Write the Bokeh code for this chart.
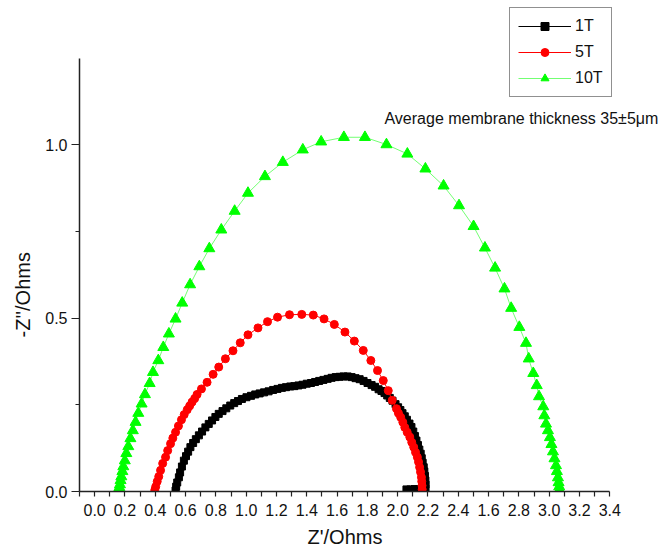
from bokeh.plotting import figure
from bokeh.models import (Range1d, FixedTicker, Legend, LegendItem, Label, Title)
from bokeh.embed import file_html
from bokeh.resources import INLINE

# ---------------- data ----------------
series_names = ["1T", "5T", "10T"]

x_1T = [0.534, 0.538, 0.545, 0.556, 0.564, 0.576, 0.589, 0.603, 0.617, 0.632,
        0.650, 0.668, 0.688, 0.709, 0.731, 0.753, 0.775, 0.797, 0.819, 0.844,
        0.869, 0.895, 0.921, 0.946, 0.972, 1.002, 1.032, 1.060, 1.089, 1.118,
        1.148, 1.178, 1.207, 1.236, 1.263, 1.291, 1.318, 1.345, 1.372, 1.400,
        1.428, 1.455, 1.482, 1.510, 1.538, 1.564, 1.591, 1.617, 1.643, 1.670,
        1.696, 1.722, 1.749, 1.775, 1.801, 1.828, 1.851, 1.874, 1.893, 1.913,
        1.931, 1.948, 1.966, 1.986, 2.003, 2.018, 2.032, 2.047, 2.061, 2.078,
        2.091, 2.103, 2.114, 2.124, 2.134, 2.143, 2.152, 2.159, 2.165, 2.172,
        2.176, 2.180, 2.183, 2.184, 2.184, 2.163, 2.137, 2.111, 2.084, 2.058]
y_1T = [0.003, 0.014, 0.026, 0.041, 0.055, 0.072, 0.089, 0.102, 0.115, 0.128,
        0.140, 0.151, 0.162, 0.173, 0.185, 0.195, 0.205, 0.215, 0.224, 0.232,
        0.240, 0.248, 0.255, 0.261, 0.267, 0.272, 0.276, 0.280, 0.283, 0.286,
        0.289, 0.293, 0.296, 0.299, 0.301, 0.303, 0.304, 0.306, 0.308, 0.311,
        0.313, 0.316, 0.319, 0.322, 0.325, 0.328, 0.330, 0.331, 0.332, 0.332,
        0.330, 0.327, 0.324, 0.319, 0.313, 0.307, 0.302, 0.295, 0.290, 0.284,
        0.277, 0.270, 0.262, 0.252, 0.243, 0.235, 0.226, 0.217, 0.207, 0.196,
        0.186, 0.173, 0.160, 0.147, 0.134, 0.121, 0.109, 0.096, 0.083, 0.070,
        0.058, 0.045, 0.032, 0.020, 0.010, 0.008, 0.007, 0.007, 0.006, 0.006]

x_5T = [0.397, 0.403, 0.413, 0.423, 0.435, 0.449, 0.468, 0.482, 0.501, 0.516,
        0.534, 0.553, 0.573, 0.591, 0.611, 0.627, 0.643, 0.660, 0.676, 0.705,
        0.742, 0.782, 0.819, 0.863, 0.913, 0.961, 1.012, 1.078, 1.141, 1.207,
        1.286, 1.367, 1.443, 1.514, 1.582, 1.652, 1.714, 1.773, 1.823, 1.867,
        1.905, 1.938, 1.964, 1.992, 2.005, 2.020, 2.034, 2.047, 2.063, 2.080,
        2.093, 2.106, 2.118, 2.130, 2.138, 2.145, 2.151, 2.157, 2.159, 2.161,
        2.162]
y_5T = [0.004, 0.014, 0.029, 0.043, 0.061, 0.081, 0.099, 0.118, 0.138, 0.154,
        0.171, 0.189, 0.207, 0.222, 0.236, 0.247, 0.258, 0.268, 0.280, 0.296,
        0.315, 0.338, 0.359, 0.383, 0.406, 0.429, 0.452, 0.472, 0.490, 0.503,
        0.510, 0.511, 0.509, 0.498, 0.482, 0.460, 0.434, 0.407, 0.378, 0.349,
        0.320, 0.291, 0.263, 0.239, 0.226, 0.214, 0.200, 0.185, 0.171, 0.157,
        0.142, 0.128, 0.113, 0.099, 0.085, 0.070, 0.056, 0.041, 0.029, 0.017,
        0.006]

x_10T = [0.161, 0.163, 0.167, 0.171, 0.176, 0.183, 0.189, 0.199, 0.209, 0.222,
         0.236, 0.252, 0.270, 0.288, 0.310, 0.332, 0.363, 0.385, 0.420, 0.453,
         0.490, 0.534, 0.578, 0.630, 0.691, 0.757, 0.836, 0.924, 1.012, 1.124,
         1.242, 1.374, 1.495, 1.645, 1.784, 1.926, 2.064, 2.183, 2.303, 2.405,
         2.501, 2.576, 2.643, 2.705, 2.749, 2.803, 2.847, 2.865, 2.895, 2.918,
         2.933, 2.961, 2.968, 2.979, 2.992, 3.005, 3.015, 3.025, 3.035, 3.045,
         3.051, 3.058, 3.062, 3.066, 3.068]
y_10T = [0.004, 0.012, 0.020, 0.032, 0.043, 0.058, 0.072, 0.089, 0.110, 0.130,
         0.153, 0.176, 0.200, 0.226, 0.253, 0.280, 0.312, 0.344, 0.378, 0.416,
         0.455, 0.498, 0.544, 0.597, 0.649, 0.701, 0.755, 0.809, 0.861, 0.909,
         0.950, 0.986, 1.009, 1.022, 1.022, 1.001, 0.974, 0.931, 0.882, 0.825,
         0.765, 0.703, 0.645, 0.585, 0.529, 0.474, 0.428, 0.383, 0.341, 0.306,
         0.274, 0.245, 0.219, 0.195, 0.176, 0.156, 0.136, 0.115, 0.095, 0.075,
         0.058, 0.040, 0.026, 0.014, 0.004]

x_ticks = [0.0, 0.2, 0.4, 0.6, 0.8, 1.0, 1.2, 1.4, 1.6, 1.8, 2.0, 2.2, 2.4,
           2.6, 2.8, 3.0, 3.2, 3.4]
x_tick_labels = ["0.0", "0.2", "0.4", "0.6", "0.8", "1.0", "1.2", "1.4", "1.6",
                 "1.8", "2.0", "2.2", "2.4", "1.6", "2.8", "3.0", "3.2", "3.4"]
x_minor_ticks = [-0.1, 0.1, 0.3, 0.5, 0.7, 0.9, 1.1, 1.3, 1.5, 1.7, 1.9, 2.1,
                 2.3, 2.5, 2.7, 2.9, 3.1, 3.3]
y_ticks = [0.0, 0.5, 1.0]
y_tick_labels = ["0.0", "0.5", "1.0"]
y_minor_ticks = [0.25, 0.75]

x_title = "Z'/Ohms"
y_title = "-Z''/Ohms"
note_text = "Average membrane thickness 35\u00b15\u03bcm"

# ---------------- figure ----------------
FONT = "Liberation Sans"
INK = "#111111"
W, H = 672, 555
p = figure(width=W, height=H, output_backend="svg", toolbar_location=None,
           x_range=Range1d(-0.1, 3.814), y_range=Range1d(0.0, 1.4166),
           min_border_left=77, min_border_right=0, min_border_top=0,
           min_border_bottom=64)
p.outline_line_color = None
p.xgrid.visible = False
p.ygrid.visible = False
p.background_fill_color = "white"
p.border_fill_color = "white"

# x axis
xa = p.xaxis[0]
xa.ticker = FixedTicker(ticks=x_ticks, minor_ticks=x_minor_ticks)
xa.major_label_overrides = {t: s for t, s in zip(x_ticks, x_tick_labels)}
xa.bounds = (-0.1, 3.4)
xa.major_tick_in = 0
xa.major_tick_out = 5
xa.minor_tick_in = 0
xa.minor_tick_out = 5
xa.major_label_standoff = 7
xa.major_label_text_font = FONT
xa.major_label_text_font_size = "16px"
xa.major_label_text_color = INK
xa.axis_line_width = 1.5
xa.axis_line_color = "#222222"
xa.major_tick_line_color = "#222222"
xa.minor_tick_line_color = "#222222"
xa.major_tick_line_width = 1.2
xa.minor_tick_line_width = 1.2

# y axis
ya = p.yaxis[0]
ya.ticker = FixedTicker(ticks=y_ticks, minor_ticks=y_minor_ticks)
ya.major_label_overrides = {t: s for t, s in zip(y_ticks, y_tick_labels)}
ya.bounds = (0.0, 1.25)
ya.major_tick_in = 0
ya.major_tick_out = 8
ya.minor_tick_in = 0
ya.minor_tick_out = 4
ya.major_label_standoff = 4
ya.major_label_text_font = FONT
ya.major_label_text_font_size = "16px"
ya.major_label_text_color = INK
ya.axis_line_width = 1.5
ya.axis_line_color = "#222222"
ya.major_tick_line_color = "#222222"
ya.minor_tick_line_color = "#222222"
ya.major_tick_line_width = 1.2
ya.minor_tick_line_width = 1.2

# series
l1 = p.line(x_1T, y_1T, line_color="black", line_width=1)
s1 = p.scatter(x_1T, y_1T, marker="square", size=7, fill_color="black",
               line_color="black")
l2 = p.line(x_5T, y_5T, line_color="red", line_width=1)
s2 = p.scatter(x_5T, y_5T, marker="circle", size=8, fill_color="red",
               line_color="red")
l3 = p.line(x_10T, y_10T, line_color="#00ff00", line_width=1, line_alpha=0.55)
s3 = p.scatter(x_10T, y_10T, marker="triangle", size=11, fill_color="#00ff00",
               line_color="#00ff00")

legend = Legend(items=[
    LegendItem(label=series_names[0], renderers=[l1, s1]),
    LegendItem(label=series_names[1], renderers=[l2, s2]),
    LegendItem(label=series_names[2], renderers=[l3, s3]),
], location=(430, 394))
legend.label_text_font = FONT
legend.label_text_font_size = "16px"
legend.label_text_color = INK
legend.glyph_width = 53
legend.glyph_height = 20
legend.label_height = 20
legend.label_standoff = 4
legend.spacing = 6
legend.padding = 8
legend.margin = 0
legend.border_line_color = "#222222"
legend.border_line_width = 1.2
legend.background_fill_color = "white"
legend.background_fill_alpha = 1.0
p.add_layout(legend, "center")

note = Label(x=1.913, y=1.076, text=note_text, text_font=FONT,
             text_font_size="16px", text_color=INK,
             text_align="left", text_baseline="middle")
p.add_layout(note)

# axis titles as side-panel titles (not clipped, freely offset)
xt = Title(text=x_title, align="left", offset=228, text_font=FONT,
           text_font_size="20px", text_font_style="normal", text_color=INK,
           standoff=10)
p.add_layout(xt, "below")

yt = Title(text=y_title, align="left", offset=154, text_font=FONT,
           text_font_size="20px", text_font_style="normal", text_color=INK,
           standoff=18)
p.add_layout(yt, "left")

open("out.html", "w").write(file_html(p, INLINE))
